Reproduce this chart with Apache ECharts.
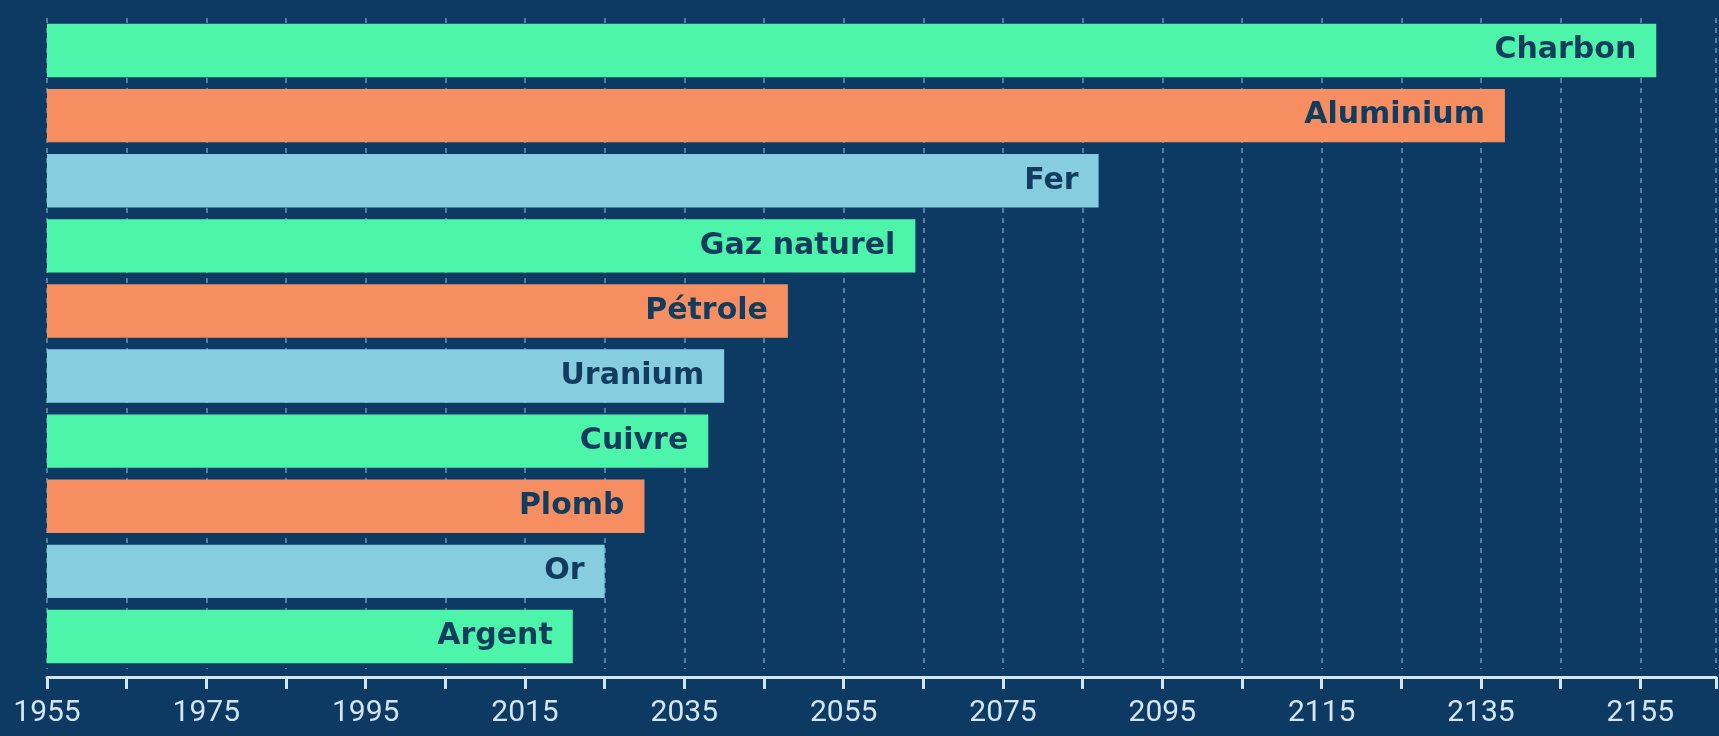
<!DOCTYPE html>
<html lang="fr">

<head>
    <meta charset="UTF-8">
    <title>Epuisement des ressources</title>
    <style>
        html, body { margin: 0; padding: 0; background: #0c3a62; }
        #BarChart { width: 1719px; height: 736px; }
    </style>
</head>

<body onload="setup()">
    <div id="BarChart"></div>

    <script src="https://cdn.jsdelivr.net/npm/echarts@6/dist/echarts.min.js"></script>
    <script>
        // ressources, du haut vers le bas
        var resources = ['Charbon', 'Aluminium', 'Fer', 'Gaz naturel', 'Pétrole', 'Uranium', 'Cuivre', 'Plomb', 'Or', 'Argent']
        // annee d'epuisement estimee
        var depletionYear = [2157, 2138, 2087, 2064, 2048, 2040, 2038, 2030, 2025, 2021]
        var barColors = ['#4cf5aa', '#f68e62', '#86cde0']
        var yearMin = 1955
        var yearMax = 2164.5

        var BarChart

        function setup() {
            BarChart = echarts.init(document.getElementById('BarChart'))
            BarChart.setOption(barChartOption, true)
        }

        var barChartOption = {
            backgroundColor: '#0c3a62',
            animation: false,
            grid: {
                left: 47,
                right: 0,
                top: 18,
                height: 651
            },
            xAxis: {
                type: 'value',
                min: yearMin,
                max: yearMax,
                interval: 10,
                offset: 8,
                axisLine: { show: true, lineStyle: { color: '#d3e6f5', width: 3 } },
                axisTick: { show: true, length: 12, lineStyle: { color: '#d3e6f5', width: 3 } },
                axisLabel: {
                    margin: 21,
                    color: '#d3e6f5',
                    fontSize: 30,
                    fontFamily: 'Roboto',
                    formatter: function (v) {
                        // un libelle tous les 20 ans
                        return ((v - yearMin) % 20 === 0) ? String(v) : ''
                    }
                },
                splitLine: {
                    show: true,
                    lineStyle: { color: 'rgba(150,195,225,0.5)', width: 2, type: [5, 5] }
                }
            },
            yAxis: {
                type: 'category',
                inverse: true,
                data: resources,
                axisLine: { show: false },
                axisTick: { show: false },
                axisLabel: { show: false }
            },
            series: [{
                type: 'bar',
                barCategoryGap: '18%',
                data: depletionYear.map(function (v, i) {
                    return { value: v, itemStyle: { color: barColors[i % 3] } }
                }),
                label: {
                    show: true,
                    position: 'insideRight',
                    distance: 20,
                    formatter: '{b}',
                    color: '#123c5e',
                    fontSize: 30,
                    fontWeight: 'bold',
                    fontFamily: 'DejaVu Sans'
                }
            }]
        }
    </script>
</body>

</html>
